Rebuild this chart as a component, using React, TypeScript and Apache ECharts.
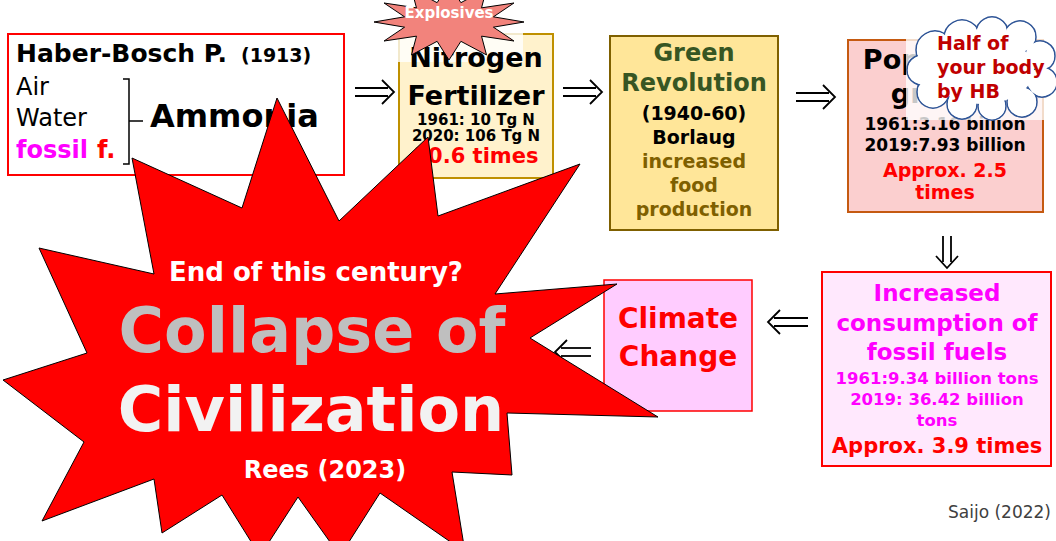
import React, { useEffect, useRef } from "react";
import * as echarts from "echarts";

const FONT = '"DejaVu Sans", Verdana, sans-serif';

// ---- content / values ----
const hbTitle = "Haber-Bosch P.";
const hbYear = "(1913)";
const hbInputs = ["Air", "Water"];
const hbFossil = ["fossil", "f."];
const hbProduct = "Ammonia";
const fertilizerTitle = ["Nitrogen", "Fertilizer"];
const fertilizerYears = [1961, 2020];
const fertilizerTgN = [10, 106];
const greenLines = ["Green", "Revolution"];
const greenSub = ["(1940-60)", "Borlaug"];
const greenEffect = ["increased", "food", "production"];
const populationTitle = ["Population", "growth"];
const populationYears = [1961, 2019];
const populationBillions = [3.16, 7.93];
const fossilTitle = ["Increased", "consumption of", "fossil fuels"];
const fossilYears = [1961, 2019];
const fossilBillionTons = [9.34, 36.42];
const climateLines = ["Climate", "Change"];
const starLines = ["End of this century?", "Collapse of", "Civilization", "Rees (2023)"];
const cloudLines = ["Half of", "your body", "by HB"];
const explosivesLabel = "Explosives";
const credit = "Saijo (2022)";

function txt(text: string, x: number, y: number, size: number, fill: string, align = "center", weight = "bold") {
  return {
    type: "text",
    style: {
      text,
      x,
      y,
      fill,
      font: `${weight} ${size}px ${FONT}`,
      textAlign: align,
      textVerticalAlign: "middle",
    },
  };
}

function rect(x: number, y: number, w: number, h: number, fill: string, stroke: string | null, lw = 2) {
  return {
    type: "rect",
    shape: { x, y, width: w, height: h },
    style: { fill, stroke: stroke || "none", lineWidth: lw },
  };
}

function line(pts: number[][], stroke = "#000", lw = 1.8) {
  return { type: "polyline", shape: { points: pts }, style: { stroke, lineWidth: lw, fill: "none" } };
}

function arrowRight(x0: number, x1: number, y: number) {
  return [
    line([[x0, y - 4], [x1 - 6, y - 4]]),
    line([[x0, y + 4], [x1 - 6, y + 4]]),
    line([[x1 - 12, y - 12], [x1, y], [x1 - 12, y + 12]]),
  ];
}
function arrowLeft(x0: number, x1: number, y: number) {
  return [
    line([[x0 + 6, y - 4], [x1, y - 4]]),
    line([[x0 + 6, y + 4], [x1, y + 4]]),
    line([[x0 + 12, y - 12], [x0, y], [x0 + 12, y + 12]]),
  ];
}
function arrowDown(x: number, y0: number, y1: number) {
  return [
    line([[x - 4, y0], [x - 4, y1 - 6]]),
    line([[x + 4, y0], [x + 4, y1 - 6]]),
    line([[x - 11, y1 - 12], [x, y1], [x + 11, y1 - 12]]),
  ];
}

function starPoints(cx: number, cy: number, rxo: number, ryo: number, rxi: number, ryi: number, n: number) {
  const pts: number[][] = [];
  for (let i = 0; i < n * 2; i++) {
    const a = (Math.PI * i) / n;
    const o = i % 2 === 0;
    pts.push([cx + Math.cos(a) * (o ? rxo : rxi), cy + Math.sin(a) * (o ? ryo : ryi)]);
  }
  return pts;
}

const bigStar = [
  [132, 158], [242, 208], [277, 98], [339, 221], [428, 137], [438, 216], [580, 164], [495, 294],
  [617, 284], [530, 338], [658, 417], [507, 413], [512, 475], [452, 472], [465, 552], [380, 493],
  [340, 556], [298, 497], [260, 556], [222, 495], [162, 533], [154, 479], [42, 521], [84, 442],
  [3, 380], [87, 353], [39, 248], [154, 274],
];

const cloudBumps = [
  [935, 50, 19], [962, 38, 18], [992, 33, 16], [1020, 37, 16], [1040, 56, 15], [1042, 82, 15],
  [1022, 102, 15], [992, 106, 14], [962, 104, 15], [933, 92, 16], [922, 70, 15],
];

export default function App() {
  const ref = useRef<HTMLDivElement>(null);
  useEffect(() => {
    document.body.style.margin = "0";
    const chart = echarts.init(ref.current!, null, { renderer: "svg" });
    const fertRatio = (fertilizerTgN[1] / fertilizerTgN[0]).toFixed(1);
    const popRatio = (populationBillions[1] / populationBillions[0]).toFixed(1);
    const fossRatio = (fossilBillionTons[1] / fossilBillionTons[0]).toFixed(1);

    const g: any[] = [];
    g.push(rect(0, 0, 1056, 541, "#ffffff", null, 0));

    // Haber-Bosch box
    g.push(rect(8, 34, 336, 141, "#ffffff", "#ff0000", 2));
    g.push(txt(hbTitle, 16, 53, 25, "#000", "left"));
    g.push(txt(hbYear, 241, 55, 19, "#000", "left"));
    g.push(txt(hbInputs[0], 16, 87, 24, "#000", "left", "normal"));
    g.push(txt(hbInputs[1], 16, 118, 24, "#000", "left", "normal"));
    g.push(txt(hbFossil[0], 16, 150, 24, "#ff00ff", "left"));
    g.push(txt(hbFossil[1], 97, 150, 24, "#ff0000", "left"));
    g.push(line([[123, 79], [129, 79], [129, 164], [123, 164]], "#000", 1.5));
    g.push(line([[129, 121], [143, 121]], "#000", 1.5));
    g.push(txt(hbProduct, 150, 116, 32, "#000", "left"));

    // Nitrogen fertilizer
    g.push(rect(399, 34, 154, 144, "#fff2cc", "#bf9000", 2));
    g.push(rect(375, 0, 148, 62, "rgba(255,255,255,0.8)", null, 0));
    g.push(txt(fertilizerTitle[0], 476, 57, 27, "#000"));
    g.push(txt(fertilizerTitle[1], 476, 95, 27, "#000"));
    g.push(txt(`${fertilizerYears[0]}: ${fertilizerTgN[0]} Tg N`, 476, 120, 15, "#000"));
    g.push(txt(`${fertilizerYears[1]}: ${fertilizerTgN[1]} Tg N`, 476, 136, 15, "#000"));
    g.push(txt(`${fertRatio} times`, 476, 156, 21, "#ff0000"));

    // Green revolution
    g.push(rect(610, 36, 168, 194, "#ffe699", "#7f6000", 2));
    g.push(txt(greenLines[0], 694, 53, 24, "#375623"));
    g.push(txt(greenLines[1], 694, 83, 24, "#375623"));
    g.push(txt(greenSub[0], 694, 113, 19, "#000"));
    g.push(txt(greenSub[1], 694, 137, 19, "#000"));
    g.push(txt(greenEffect[0], 694, 161, 19, "#7f6000"));
    g.push(txt(greenEffect[1], 694, 185, 19, "#7f6000"));
    g.push(txt(greenEffect[2], 694, 209, 19, "#7f6000"));

    // Population
    g.push(rect(848, 40, 195, 172, "#fbcfcf", "#c55a11", 2));
    g.push(txt(populationTitle[0], 945, 59, 27, "#000"));
    g.push(txt(populationTitle[1], 945, 93, 27, "#000"));
    g.push(txt(`${populationYears[0]}:${populationBillions[0].toFixed(2)} billion`, 945, 124, 17, "#000"));
    g.push(txt(`${populationYears[1]}:${populationBillions[1].toFixed(2)} billion`, 945, 145, 17, "#000"));
    g.push(txt(`Approx. ${popRatio}`, 945, 170, 19, "#ff0000"));
    g.push(txt("times", 945, 192, 19, "#ff0000"));
    g.push(rect(906, 18, 150, 102, "rgba(255,255,255,0.78)", null, 0));

    // cloud
    for (const [cx, cy, r] of cloudBumps) {
      g.push({ type: "circle", shape: { cx, cy, r }, style: { fill: "#fff", stroke: "#2f5597", lineWidth: 1.5 } });
    }
    for (const [cx, cy, r] of cloudBumps) {
      g.push({ type: "circle", shape: { cx, cy, r: r - 1 }, style: { fill: "#fff" } });
    }
    g.push({ type: "ellipse", shape: { cx: 982, cy: 70, rx: 52, ry: 34 }, style: { fill: "#fff" } });
    g.push(txt(cloudLines[0], 937, 43, 19, "#c00000", "left"));
    g.push(txt(cloudLines[1], 937, 67, 19, "#c00000", "left"));
    g.push(txt(cloudLines[2], 937, 91, 19, "#c00000", "left"));

    // Fossil fuels
    g.push(rect(822, 272, 229, 194, "#ffe8fd", "#ff0000", 2));
    g.push(txt(fossilTitle[0], 937, 293, 23, "#ff00ff"));
    g.push(txt(fossilTitle[1], 937, 323, 23, "#ff00ff"));
    g.push(txt(fossilTitle[2], 937, 352, 23, "#ff00ff"));
    g.push(txt(`${fossilYears[0]}:${fossilBillionTons[0]} billion tons`, 937, 378, 16.5, "#ff00ff"));
    g.push(txt(`${fossilYears[1]}: ${fossilBillionTons[1]} billion`, 937, 399, 16.5, "#ff00ff"));
    g.push(txt("tons", 937, 420, 16.5, "#ff00ff"));
    g.push(txt(`Approx. ${fossRatio} times`, 937, 446, 21, "#ff0000"));

    // Climate change
    g.push(rect(604, 280, 148, 131, "#ffccff", "#ff0000", 1.5));
    g.push(txt(climateLines[0], 678, 318, 28, "#ff0000"));
    g.push(txt(climateLines[1], 678, 356, 28, "#ff0000"));

    // arrows
    g.push(...arrowRight(355, 394, 92));
    g.push(...arrowRight(563, 602, 92));
    g.push(...arrowRight(796, 835, 97));
    g.push(...arrowDown(947, 236, 268));
    g.push(...arrowLeft(768, 808, 322));
    g.push(...arrowLeft(555, 591, 352));

    // explosives star
    g.push({
      type: "polygon",
      shape: { points: starPoints(449, 22, 75, 38, 46, 20, 12) },
      style: { fill: "#f2837c", stroke: "#000", lineWidth: 1 },
    });
    g.push(txt(explosivesLabel, 449, 13, 15, "#ffffff"));

    // big star
    g.push({
      type: "polygon",
      shape: { points: bigStar },
      style: { fill: "#ff0000", stroke: "#000", lineWidth: 1 },
    });
    g.push(txt(starLines[0], 316, 272, 26, "#ffffff"));
    g.push(txt(starLines[1], 312, 330, 62, "#bfbfbf"));
    g.push(txt(starLines[2], 311, 409, 62, "#f2f2f2"));
    g.push(txt(starLines[3], 325, 470, 24, "#ffffff"));

    // credit
    g.push(txt(credit, 948, 512, 17, "#404040", "left", "normal"));

    chart.setOption({ animation: false, graphic: { elements: g } });
    return () => chart.dispose();
  }, []);
  return <div ref={ref} style={{ width: 1056, height: 541 }} />;
}
